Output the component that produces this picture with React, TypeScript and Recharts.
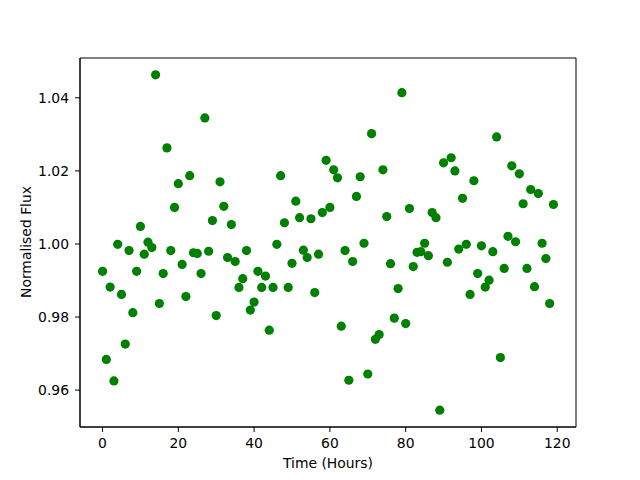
import { ScatterChart, Scatter, XAxis, YAxis, ReferenceArea, Label } from 'recharts';

const hours = [
  0, 1, 2, 3, 4, 5, 6, 7, 8, 9, 10, 11, 12, 13, 14, 15, 16, 17, 18, 19,
  20, 21, 22, 23, 24, 25, 26, 27, 28, 29, 30, 31, 32, 33, 34, 35, 36, 37, 38, 39,
  40, 41, 42, 43, 44, 45, 46, 47, 48, 49, 50, 51, 52, 53, 54, 55, 56, 57, 58, 59,
  60, 61, 62, 63, 64, 65, 66, 67, 68, 69, 70, 71, 72, 73, 74, 75, 76, 77, 78, 79,
  80, 81, 82, 83, 84, 85, 86, 87, 88, 89, 90, 91, 92, 93, 94, 95, 96, 97, 98, 99,
  100, 101, 102, 103, 104, 105, 106, 107, 108, 109, 110, 111, 112, 113, 114, 115, 116, 117, 118, 119,
];

const flux = [
  0.9925, 0.9684, 0.9882, 0.9625, 0.9999, 0.9862, 0.9726, 0.9982, 0.9812, 0.9925,
  1.0048, 0.9972, 1.0005, 0.999, 1.0463, 0.9837, 0.9919, 1.0263, 0.9982, 1.01,
  1.0165, 0.9944, 0.9856, 1.0187, 0.9976, 0.9974, 0.9919, 1.0345, 0.998, 1.0064,
  0.9804, 1.017, 1.0103, 0.9963, 1.0053, 0.9952, 0.9881, 0.9905, 0.9982, 0.9819,
  0.9841, 0.9925, 0.9881, 0.9912, 0.9764, 0.9881, 0.9999, 1.0187, 1.0058, 0.9881,
  0.9947, 1.0117, 1.0072, 0.9983, 0.9963, 1.0069, 0.9867, 0.9972, 1.0086, 1.0229,
  1.01, 1.0203, 1.0181, 0.9775, 0.9982, 0.9627, 0.9952, 1.013, 1.0184, 1.0002,
  0.9644, 1.0302, 0.9739, 0.9752, 1.0203, 1.0075, 0.9946, 0.9797, 0.9878, 1.0414,
  0.9782, 1.0097, 0.9938, 0.9977, 0.9979, 1.0002, 0.9968, 1.0086, 1.0072, 0.9545,
  1.0222, 0.995, 1.0236, 1.02, 0.9986, 1.0125, 0.9999, 0.9862, 1.0173, 0.9919,
  0.9995, 0.9882, 0.9901, 0.9979, 1.0293, 0.9689, 0.9933, 1.0021, 1.0214, 1.0006,
  1.0192, 1.011, 0.9933, 1.0149, 0.9883, 1.0138, 1.0002, 0.996, 0.9837, 1.0108,
];

const xTicks = [0, 20, 40, 60, 80, 100, 120];
const yTicks = [0.96, 0.98, 1.0, 1.02, 1.04];

const X_DOMAIN: [number, number] = [-5.95, 124.95];
const Y_DOMAIN: [number, number] = [0.9499, 1.0509];

const FONT = '"DejaVu Sans", sans-serif';

const data = hours.map((h, i) => ({ hour: h, flux: flux[i] }));

const Dot = (props: any) => (
  <circle cx={props.cx} cy={props.cy} r={4.6} fill="#008000" />
);

export default function App() {
  return (
    <div style={{ position: 'absolute', left: 0, top: 0, width: 640, height: 480, background: '#fff' }}>
      <ScatterChart
        width={640}
        height={480}
        margin={{ top: 58, right: 64, bottom: 0, left: 0 }}
        style={{ fontFamily: FONT }}
      >
        <XAxis
          type="number"
          dataKey="hour"
          domain={X_DOMAIN}
          ticks={xTicks}
          allowDataOverflow
          height={53}
          tickSize={5}
          tickMargin={6}
          stroke="#000"
          tick={{ fill: '#000', fontSize: 13.9 }}
          tickLine={{ stroke: '#000' }}
        >
          <Label
            content={() => (
              <text x={328} y={468} textAnchor="middle" fontSize={13.9} fill="#000" fontFamily={FONT}>
                Time (Hours)
              </text>
            )}
          />
        </XAxis>
        <YAxis
          type="number"
          dataKey="flux"
          domain={Y_DOMAIN}
          ticks={yTicks}
          allowDataOverflow
          width={80}
          tickSize={5}
          tickMargin={6}
          stroke="#000"
          tick={{ fill: '#000', fontSize: 13.9 }}
          tickLine={{ stroke: '#000' }}
          tickFormatter={(v: number) => v.toFixed(2)}
        >
          <Label
            content={() => (
              <text
                x={31}
                y={242}
                textAnchor="middle"
                fontSize={13.9}
                fill="#000"
                fontFamily={FONT}
                transform="rotate(-90, 31, 242)"
              >
                Normalised Flux
              </text>
            )}
          />
        </YAxis>
        <Scatter data={data} shape={Dot} isAnimationActive={false} />
        <ReferenceArea
          x1={X_DOMAIN[0]}
          x2={X_DOMAIN[1]}
          y1={Y_DOMAIN[0]}
          y2={Y_DOMAIN[1]}
          fill="none"
          stroke="#000"
          strokeWidth={1}
          ifOverflow="visible"
        />
      </ScatterChart>
    </div>
  );
}
